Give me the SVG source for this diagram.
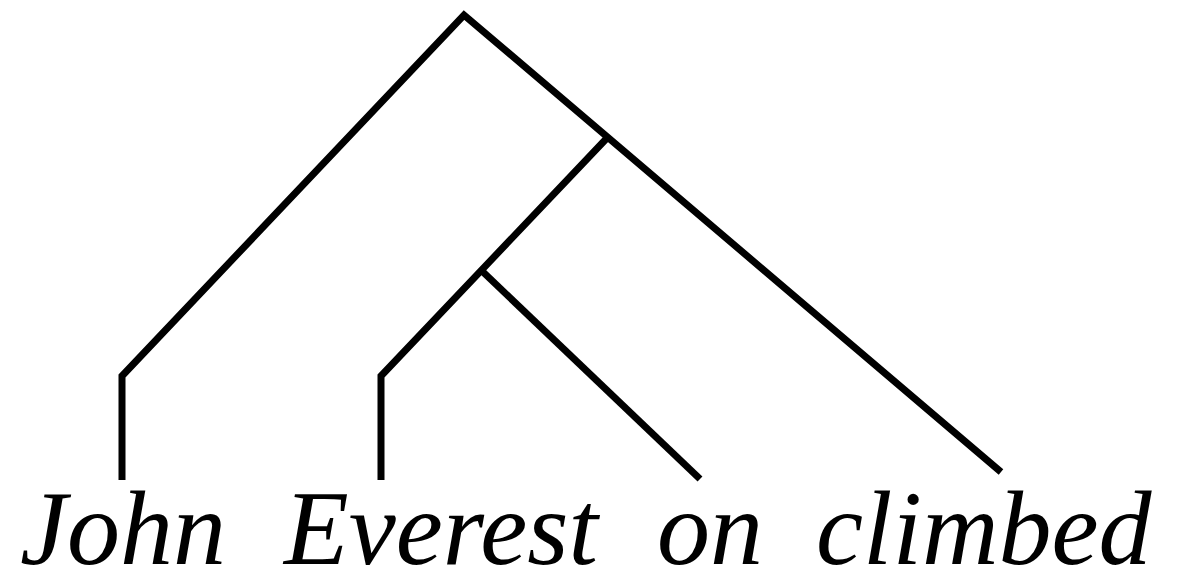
<svg xmlns="http://www.w3.org/2000/svg" width="1192" height="588" viewBox="0 0 1192 588">
<style>
.e{fill:none;stroke:#000;stroke-width:7;stroke-linecap:butt;stroke-linejoin:miter}
.w{font-family:"Liberation Serif","Times New Roman",serif;font-style:italic;font-size:106px;fill:#000}
</style>
<rect width="1192" height="588" fill="#fff"/>
<g id="edges">
<polyline class="e" points="122,480 122,376 464,15 1001,472"/>
<polyline class="e" points="381,480 381,376 607,138"/>
<line class="e" x1="482" y1="271" x2="700" y2="479"/>
</g>
<g id="n-john"><text class="w" x="20" y="564">John</text></g>
<g id="n-everest"><text class="w" x="284" y="564">Everest</text></g>
<g id="n-on"><text class="w" x="657" y="564">on</text></g>
<g id="n-climbed"><text class="w" x="816" y="564">climbed</text></g>
</svg>
